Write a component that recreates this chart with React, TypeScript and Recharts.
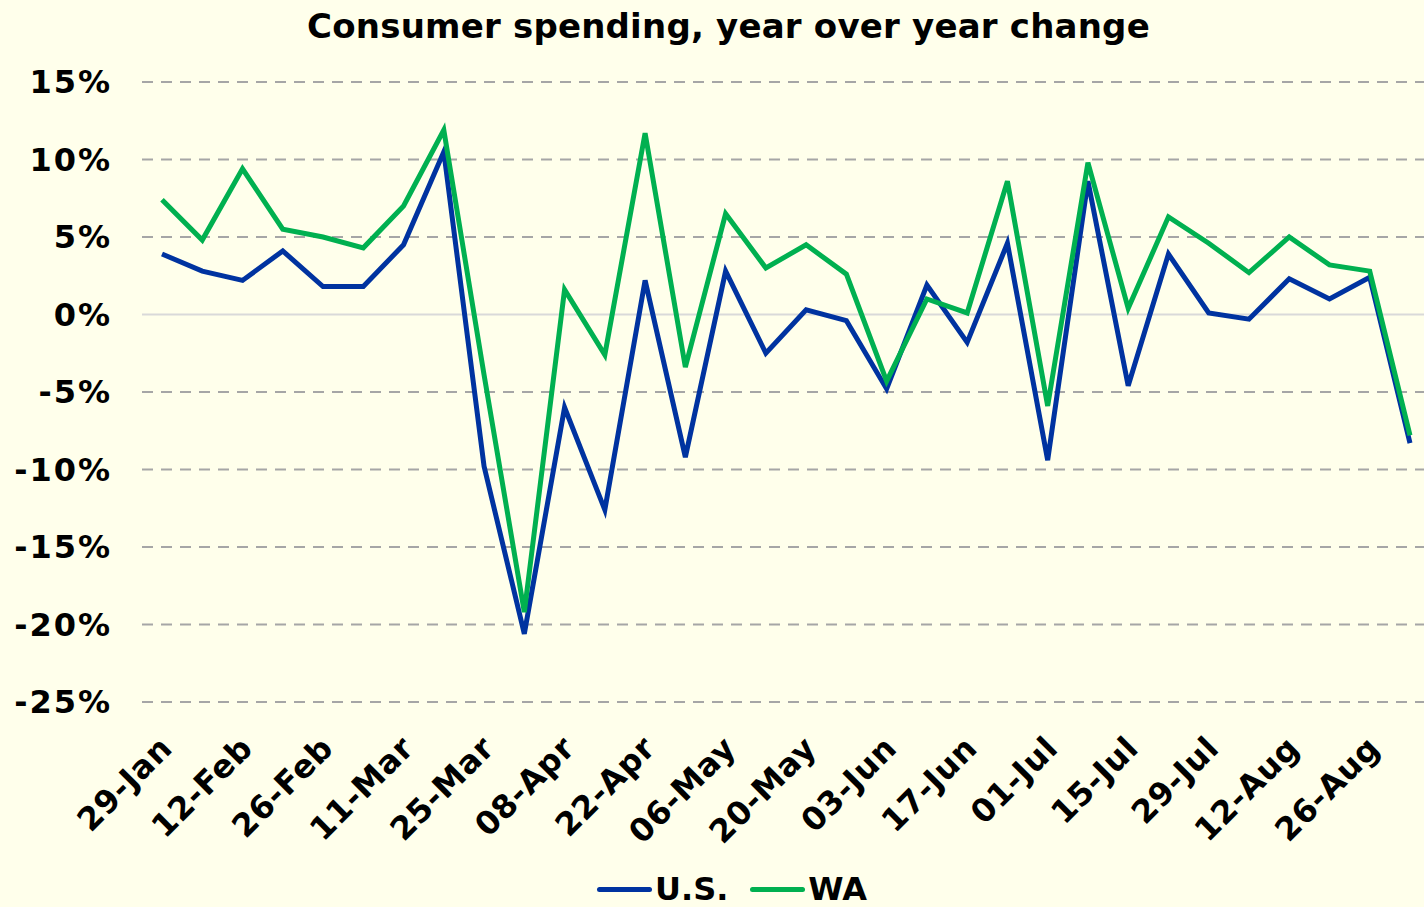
import React from 'react';
import { LineChart, Line, XAxis, YAxis, CartesianGrid, ReferenceLine, Legend } from 'recharts';

const dates = [
  '29-Jan', '05-Feb', '12-Feb', '19-Feb', '26-Feb', '04-Mar', '11-Mar', '18-Mar',
  '25-Mar', '01-Apr', '08-Apr', '15-Apr', '22-Apr', '29-Apr', '06-May', '13-May',
  '20-May', '27-May', '03-Jun', '10-Jun', '17-Jun', '24-Jun', '01-Jul', '08-Jul',
  '15-Jul', '22-Jul', '29-Jul', '05-Aug', '12-Aug', '19-Aug', '26-Aug', '02-Sep',
];
const usValues = [
  3.9, 2.8, 2.2, 4.1, 1.8, 1.8, 4.5, 10.5,
  -9.8, -20.6, -6.0, -12.6, 2.2, -9.2, 2.8, -2.5,
  0.3, -0.4, -4.8, 1.9, -1.8, 4.6, -9.4, 8.6,
  -4.6, 3.9, 0.1, -0.3, 2.3, 1.0, 2.4, -8.3,
];
const waValues = [
  7.4, 4.8, 9.4, 5.5, 5.0, 4.3, 7.0, 11.9,
  -3.9, -19.2, 1.6, -2.6, 11.7, -3.4, 6.5, 3.0,
  4.5, 2.6, -4.3, 1.0, 0.1, 8.6, -5.9, 9.8,
  0.4, 6.3, 4.6, 2.7, 5.0, 3.2, 2.8, -7.8,
];
const yTicks = [15, 10, 5, 0, -5, -10, -15, -20, -25];

const data = dates.map((date, i) => ({ date, us: usValues[i], wa: waValues[i] }));

const font = '"DejaVu Sans", Verdana, sans-serif';

const DateTick = (props: any) => {
  const { x, y, payload } = props;
  const ax = x + 12;
  const ay = y + 40;
  return (
    <text
      x={ax}
      y={ay}
      transform={`rotate(-45, ${ax}, ${ay})`}
      textAnchor="end"
      fontFamily={font}
      fontWeight="bold"
      fontSize={32}
      letterSpacing={0.6}
      fill="#000"
    >
      {payload.value}
    </text>
  );
};

const renderLegend = (props: any) => {
  const { payload } = props;
  return (
    <div style={{ display: 'flex', justifyContent: 'center', paddingLeft: 34, height: 36, alignItems: 'center' }}>
      {payload.map((item: any, i: number) => (
        <div key={item.value} style={{ display: 'flex', alignItems: 'center', marginLeft: i === 0 ? 0 : 22 }}>
          <div style={{ width: 55, height: 5, background: item.color, borderRadius: 3 }} />
          <span style={{ fontFamily: font, fontWeight: 'bold', fontSize: 32, color: '#000', marginLeft: 3, lineHeight: '36px' }}>
            {item.value}
          </span>
        </div>
      ))}
    </div>
  );
};

export default function App() {
  return (
    <div style={{ position: 'absolute', left: 0, top: 0, width: 1424, height: 907, overflow: 'hidden', background: '#FFFFEB' }}>
      <div
        style={{
          position: 'absolute', left: 0, top: 6, width: 1457, textAlign: 'center',
          fontFamily: font, fontWeight: 'bold', fontSize: 34, lineHeight: '40px', color: '#000',
          letterSpacing: 0.2,
        }}
      >
        Consumer spending, year over year change
      </div>
      <LineChart width={1430} height={907} data={data} margin={{ top: 82, right: 0, bottom: 0, left: 0 }}>
        <CartesianGrid
          vertical={false}
          stroke="#a6a6a6"
          strokeWidth={2}
          strokeDasharray="11 8"
          horizontalValues={yTicks.filter((t) => t !== 0)}
        />
        <ReferenceLine y={0} stroke="#d9d9d9" strokeWidth={2} />
        <XAxis
          dataKey="date"
          interval={1}
          axisLine={false}
          tickLine={false}
          height={169}
          padding={{ left: 20, right: 20 }}
          tick={<DateTick />}
        />
        <YAxis
          domain={[-25, 15]}
          ticks={yTicks}
          width={142}
          axisLine={false}
          tickLine={false}
          tickMargin={24}
          tickFormatter={(v: number) => `${v}%`}
          tick={{ fontFamily: font, fontWeight: 'bold', fontSize: 32, fill: '#000', letterSpacing: 2 }}
        />
        <Legend verticalAlign="bottom" height={36} content={renderLegend} />
        <Line type="linear" dataKey="us" name="U.S." stroke="#0033A0" strokeWidth={5} dot={false} isAnimationActive={false} />
        <Line type="linear" dataKey="wa" name="WA" stroke="#00B050" strokeWidth={5} dot={false} isAnimationActive={false} />
      </LineChart>
    </div>
  );
}
